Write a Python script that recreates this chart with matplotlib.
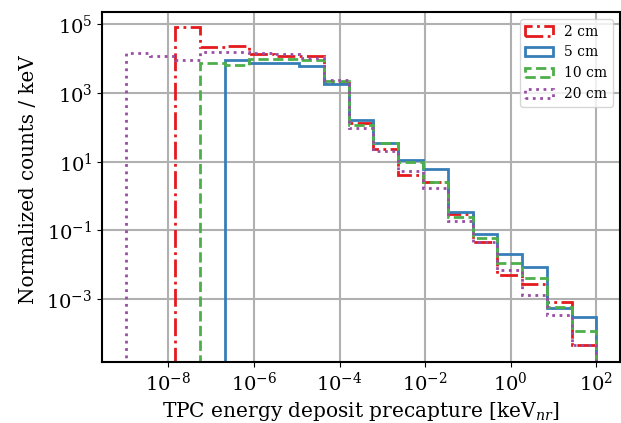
import numpy as np
import matplotlib
matplotlib.use("Agg")
import matplotlib.pyplot as plt
from matplotlib.ticker import NullLocator

plt.rcParams["font.family"] = "DejaVu Serif"
plt.rcParams["mathtext.fontset"] = "dejavuserif"

# log-spaced energy bins, 1e-9 .. 1e2 keV
edges = np.logspace(-9, 2, 20)

# normalized counts / keV per bin, for each distance
counts_2cm = [0, 0, 8.3e4, 2.2e4, 2.3e4, 1.35e4, 1.2e4, 1.17e4, 2.0e3, 132,
              23, 4.0, 2.5, 0.30, 0.047, 5.0e-3, 2.7e-3, 8.5e-4, 4.6e-5]
counts_5cm = [0, 0, 0, 0, 9.1e3, 7.4e3, 7.6e3, 6.0e3, 1.8e3, 162,
              36, 11.2, 6.0, 0.35, 0.078, 0.020, 8.7e-3, 5.4e-4, 2.95e-4]
counts_10cm = [0, 0, 0, 7.6e3, 6.6e3, 9.5e3, 9.5e3, 8.9e3, 2.3e3, 117,
               35, 10, 2.5, 0.25, 0.062, 0.0115, 4.0e-3, 6.0e-4, 1.15e-4]
counts_20cm = [1.45e4, 1.17e4, 9.1e3, 1.6e4, 1.6e4, 1.45e4, 1.38e4, 1.05e4, 2.4e3, 93,
               21, 5.5, 1.7, 0.19, 0.047, 7.1e-3, 1.3e-3, 3.5e-4, 4.6e-5]

labels = ["2 cm", "5 cm", "10 cm", "20 cm"]
colors = ["#e41a1c", "#377eb8", "#4daf4a", "#984ea3"]
styles = ["-.", "-", "--", ":"]

fig = plt.figure(figsize=(6.21, 4.23), dpi=100)
ax = fig.add_axes([102 / 621, 61 / 423, 518 / 621, 350 / 423])

centers = np.sqrt(edges[:-1] * edges[1:])
for vals, lab, c, ls in zip([counts_2cm, counts_5cm, counts_10cm, counts_20cm],
                            labels, colors, styles):
    ax.hist(centers, bins=edges, weights=vals, histtype="step",
            color=c, linestyle=ls, linewidth=2, label=lab)

ax.set_xscale("log")
ax.set_yscale("log")
ax.set_xlim(10 ** -9.55, 10 ** 2.55)
ax.set_ylim(10 ** -4.83, 10 ** 5.36)
ax.set_xticks([1e-8, 1e-6, 1e-4, 1e-2, 1e0, 1e2])
ax.set_yticks([1e-3, 1e-1, 1e1, 1e3, 1e5])
ax.xaxis.set_minor_locator(NullLocator())
ax.yaxis.set_minor_locator(NullLocator())
ax.tick_params(labelsize=14)
ax.grid(True, color="#b0b0b0", linewidth=1.5)
for sp in ax.spines.values():
    sp.set_linewidth(1.5)

ax.set_xlabel("TPC energy deposit precapture [keV$_{nr}$]", fontsize=14.5)
ax.set_ylabel("Normalized counts / keV", fontsize=14.3, y=0.52, labelpad=6)
ax.legend(loc="upper right", fontsize=10)

fig.savefig("out.png", dpi=100)
